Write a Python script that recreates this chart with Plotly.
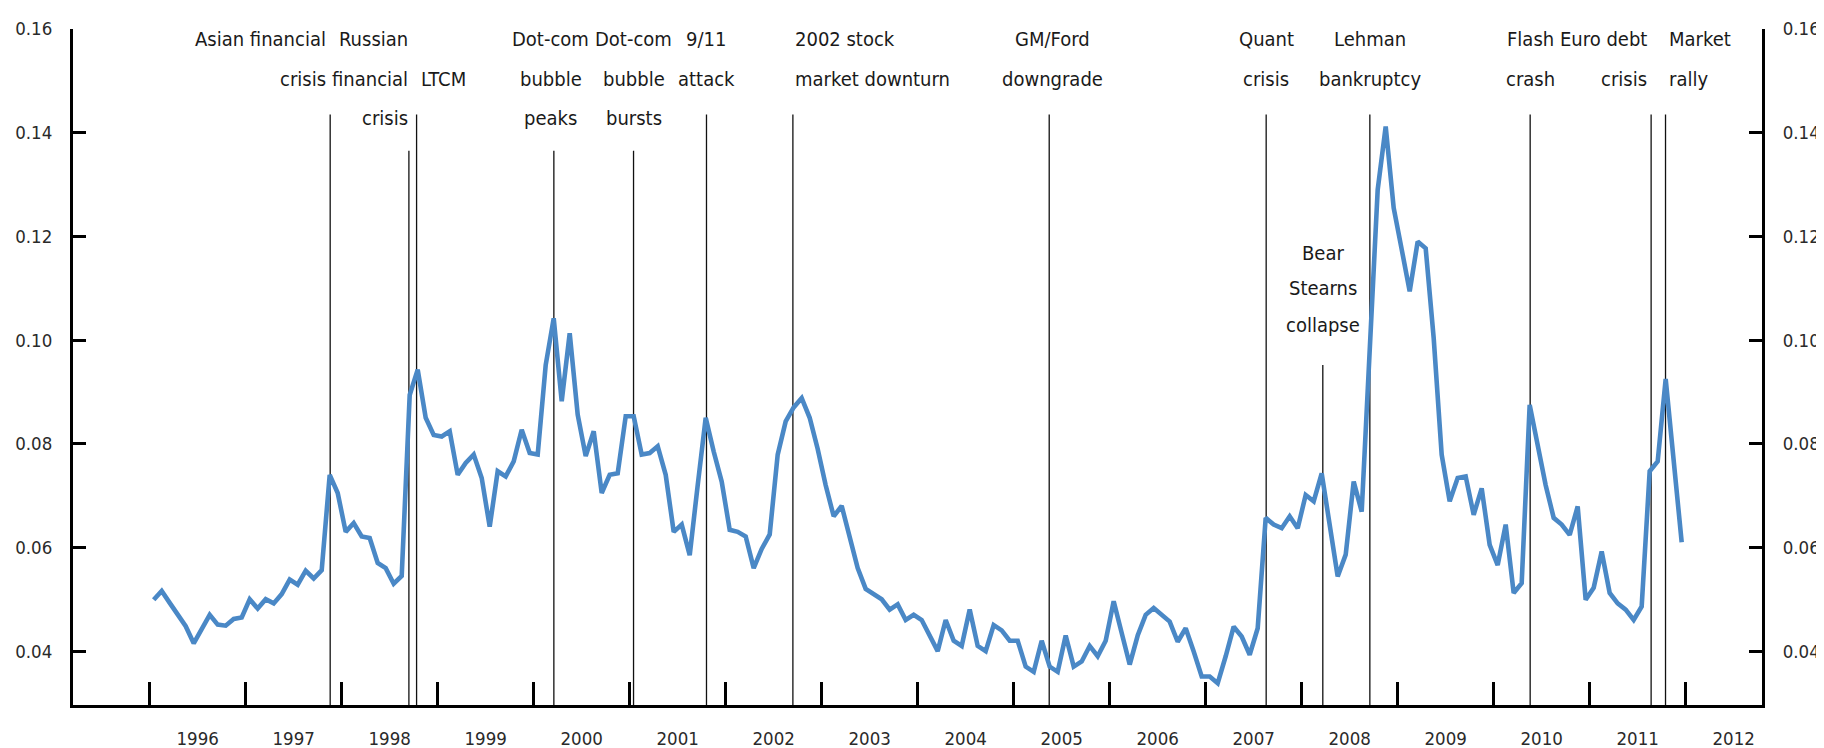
import plotly.graph_objects as go

# ---------------- data (monthly, Jan 1996 - Dec 2011) ----------------
START_YEAR = 1996
y1996 = [0.0499, 0.0516, 0.0493, 0.0470, 0.0448, 0.0415, 0.0441, 0.0470, 0.0451, 0.0449, 0.0462, 0.0465]
y1997 = [0.0500, 0.0482, 0.0500, 0.0492, 0.0510, 0.0538, 0.0528, 0.0555, 0.0540, 0.0556, 0.0740, 0.0705]
y1998 = [0.0630, 0.0647, 0.0621, 0.0618, 0.0570, 0.0560, 0.0530, 0.0545, 0.0894, 0.0943, 0.0850, 0.0817]
y1999 = [0.0814, 0.0824, 0.0740, 0.0763, 0.0779, 0.0734, 0.0640, 0.0747, 0.0737, 0.0766, 0.0827, 0.0782]
y2000 = [0.0779, 0.0952, 0.1042, 0.0882, 0.1013, 0.0856, 0.0776, 0.0824, 0.0705, 0.0740, 0.0743, 0.0853]
y2001 = [0.0853, 0.0779, 0.0782, 0.0795, 0.0740, 0.0630, 0.0644, 0.0585, 0.0720, 0.0850, 0.0785, 0.0727]
y2002 = [0.0634, 0.0630, 0.0621, 0.0560, 0.0597, 0.0625, 0.0779, 0.0843, 0.0870, 0.0888, 0.0850, 0.0790]
y2003 = [0.0720, 0.0660, 0.0680, 0.0620, 0.0560, 0.0520, 0.0510, 0.0500, 0.0480, 0.0490, 0.0460, 0.0470]
y2004 = [0.0460, 0.0430, 0.0400, 0.0460, 0.0420, 0.0410, 0.0480, 0.0410, 0.0400, 0.0450, 0.0440, 0.0420]
y2005 = [0.0420, 0.0370, 0.0360, 0.0420, 0.0370, 0.0360, 0.0430, 0.0370, 0.0380, 0.0410, 0.0390, 0.0420]
y2006 = [0.0496, 0.0435, 0.0374, 0.0430, 0.0470, 0.0483, 0.0470, 0.0457, 0.0418, 0.0444, 0.0399, 0.0351]
y2007 = [0.0351, 0.0338, 0.0390, 0.0447, 0.0428, 0.0393, 0.0444, 0.0657, 0.0644, 0.0637, 0.0660, 0.0637]
y2008 = [0.0701, 0.0689, 0.0743, 0.0650, 0.0544, 0.0586, 0.0727, 0.0669, 0.0970, 0.1290, 0.1412, 0.1255]
y2009 = [0.1175, 0.1094, 0.1190, 0.1177, 0.1004, 0.0779, 0.0689, 0.0734, 0.0737, 0.0663, 0.0714, 0.0605]
y2010 = [0.0566, 0.0644, 0.0512, 0.0531, 0.0875, 0.0800, 0.0720, 0.0657, 0.0644, 0.0624, 0.0679, 0.0499]
y2011 = [0.0522, 0.0592, 0.0512, 0.0492, 0.0480, 0.0460, 0.0486, 0.0747, 0.0766, 0.0925, 0.0760, 0.0610]
risk = (y1996 + y1997 + y1998 + y1999 + y2000 + y2001 + y2002 + y2003 + y2004
        + y2005 + y2006 + y2007 + y2008 + y2009 + y2010 + y2011)
month_x = [START_YEAR + (i + 0.5) / 12 for i in range(len(risk))]

year_ticks = list(range(1996, 2013))
year_labels = [str(y) for y in year_ticks]
y_ticks = [0.04, 0.06, 0.08, 0.10, 0.12, 0.14, 0.16]
y_tick_text = ["0.04", "0.06", "0.08", "0.10", "0.12", "0.14", "0.16"]

event_x = [1997.88, 1998.70, 1998.78, 2000.21, 2001.04, 2001.80, 2002.70,
           2005.37, 2007.63, 2008.22, 2008.71, 2010.38, 2011.64, 2011.79]
event_top = [0.1435, 0.1365, 0.1435, 0.1365, 0.1365, 0.1435, 0.1435,
             0.1435, 0.1435, 0.0952, 0.1435, 0.1435, 0.1435, 0.1435]
event_labels = [
    ["Asian financial", "crisis"],
    ["Russian", "financial", "crisis"],
    ["", "LTCM"],
    ["Dot-com", "bubble", "peaks"],
    ["Dot-com", "bubble", "bursts"],
    ["9/11", "attack"],
    ["2002 stock", "market downturn"],
    ["GM/Ford", "downgrade"],
    ["Quant", "crisis"],
    ["Bear", "Stearns", "collapse"],
    ["Lehman", "bankruptcy"],
    ["Flash", "crash"],
    ["Euro debt", "crisis"],
    ["Market", "rally"],
]

# ---------------- layout / style ----------------
X_MIN, X_MAX = 1995.201, 2012.795
Y_MIN, Y_MAX = 0.0296, 0.1600
FONT = "DejaVu Sans Condensed, Liberation Sans Narrow, Arial Narrow, sans-serif"
LINE_BLUE = "#4a88c6"
align = ["right", "right", "left", "center", "center", "center", "left",
         "center", "center", "center", "center", "center", "right", "left"]
shift = [-2, 1, 2, -3, 0, 0, 0, 3, 0, 0, 0, 0, -2, 1]
row_y = [0.1580, 0.1503, 0.1428]
bear_row_y = [0.1168, 0.1100, 0.1029]

fig = go.Figure()

ex, ey = [], []
for x, top in zip(event_x, event_top):
    ex += [x, x, None]
    ey += [Y_MIN, top, None]
fig.add_trace(go.Scatter(x=ex, y=ey, mode="lines",
                         line=dict(color="#111111", width=1.3),
                         hoverinfo="skip", showlegend=False,
                         xaxis="x", yaxis="y"))

fig.add_trace(go.Scatter(x=month_x, y=risk, mode="lines",
                         line=dict(color=LINE_BLUE, width=4.6),
                         showlegend=False, xaxis="x2", yaxis="y2"))

annotations = []
for k, (x, lines) in enumerate(zip(event_x, event_labels)):
    rows = bear_row_y if lines[0] == "Bear" else row_y
    for j, txt in enumerate(lines):
        if not txt:
            continue
        annotations.append(dict(
            x=x, y=rows[j], xref="x", yref="y", text=txt, showarrow=False,
            xanchor=align[k], yanchor="middle", xshift=shift[k],
            font=dict(family=FONT, size=20, color="#1a1a1a")))

axis_font = dict(family=FONT, size=18.5, color="#2a2a2a")

common_y = dict(range=[Y_MIN, Y_MAX], tickmode="array", tickvals=y_ticks,
                ticktext=y_tick_text, ticks="inside", ticklen=13, tickwidth=3,
                tickcolor="black", showline=True, linecolor="black", linewidth=3,
                showgrid=False, zeroline=False, tickfont=axis_font,
                ticklabelstandoff=14, automargin=False)

fig.update_layout(
    width=1824, height=748,
    margin=dict(l=65, r=70, t=21, b=51, autoexpand=False),
    paper_bgcolor="white", plot_bgcolor="white",
    showlegend=False,
    hovermode=False,
    annotations=annotations,
    xaxis=dict(range=[X_MIN, X_MAX], tickmode="array", tickvals=year_ticks,
               showticklabels=False, ticks="inside", ticklen=23, tickwidth=3,
               tickcolor="black", showline=True, linecolor="black", linewidth=3,
               showgrid=False, zeroline=False, automargin=False),
    xaxis2=dict(range=[X_MIN, X_MAX], overlaying="x", anchor="y", side="bottom",
                tickmode="array", tickvals=[y + 0.5 for y in year_ticks],
                ticktext=year_labels, ticks="", showline=False, showgrid=False,
                zeroline=False, tickfont=axis_font, ticklabelstandoff=20,
                automargin=False),
    yaxis=dict(**common_y),
    yaxis2=dict(**common_y, overlaying="y", anchor="x", side="right"),
)

fig.write_html("out.html", config={"displayModeBar": False})
